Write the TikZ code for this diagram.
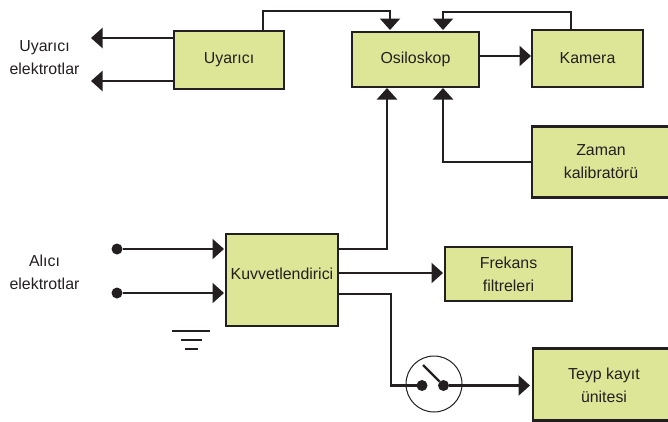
\documentclass[tikz,border=0pt]{standalone}
\usepackage{fontspec}
\setmainfont{Liberation Sans}
\usetikzlibrary{arrows.meta}
\definecolor{inkdark}{HTML}{231F20}
\definecolor{boxgreen}{HTML}{DDE696}
\tikzset{
	blockbox/.style={draw=inkdark, line width=2.4pt, fill=boxgreen, inner sep=0pt, outer sep=0pt, text=inkdark, align=center},
	caption/.style={text=inkdark, align=center, inner sep=0pt},
	conn/.style={draw=inkdark, line width=2.4pt},
	connarrow/.style={conn, -{Triangle[length=11.5pt,width=20pt]}},
	termdot/.style={circle, fill=inkdark, inner sep=0pt, minimum size=11pt, outer sep=0pt},
}
\begin{document}
\begin{tikzpicture}[x=1pt, y=-1pt, font=\fontsize{15.9}{23}\selectfont]
			%%%%% START %%%%%
			\useasboundingbox (0, 0) rectangle (668, 421);
			
			\node[blockbox, minimum width=110pt, minimum height=58pt] (uyarici) at (229, 60) {Uyarıcı};
			\node[blockbox, minimum width=127pt, minimum height=55pt] (osiloskop) at (415.5, 59.5) {Osiloskop};
			\node[blockbox, minimum width=111pt, minimum height=57pt] (kamera) at (587.5, 58.5) {Kamera};
			\node[blockbox, minimum width=138pt, minimum height=71pt] (zaman) at (601, 162) {Zaman\\kalibratörü};
			\node[blockbox, minimum width=112pt, minimum height=92pt] (kuvvet) at (282, 280) {};
			\node[caption] (kuvvetlabel) at (282, 274) {Kuvvetlendirici};
			\node[blockbox, minimum width=127pt, minimum height=54pt] (frekans) at (508.5, 274) {Frekans\\filtreleri};
			\node[blockbox, minimum width=137pt, minimum height=72pt] (teyp) at (601.5, 384.5) {};
			\node[caption] (teyplabel) at (604, 385) {Teyp kayıt\\ünitesi};
			
			\node[caption] (uyarilabel) at (44.5, 58) {Uyarıcı\\elektrotlar};
			\node[caption] (alicilabel) at (44.5, 272) {Alıcı\\elektrotlar};
			
			% stimulus outputs
			\coordinate (uyariout) at (91, 38);
			\coordinate (uyariouttwo) at (91, 81);
			\draw[connarrow] (uyarici.west |- uyariout) -- (uyariout);
			\draw[connarrow] (uyarici.west |- uyariouttwo) -- (uyariouttwo);
			
			% top lines
			\coordinate (uyaritop) at (263, 11);
			\coordinate (osiltopa) at (390, 30);
			\coordinate (kameratop) at (571, 12);
			\coordinate (osiltopb) at (443, 30);
			\coordinate (kamerain) at (531, 56);
			\draw[connarrow] (uyaritop |- uyarici.north) -- (uyaritop) -| (osiltopa);
			\draw[connarrow] (kameratop |- kamera.north) -- (kameratop) -| (osiltopb);
			\draw[connarrow] (osiloskop.east |- kamerain) -- (kamerain);
			
			% into the oscilloscope from below
			\coordinate (osilbota) at (387, 88);
			\coordinate (osilbotb) at (443, 88);
			\coordinate (kuvvetup) at (338, 249);
			\draw[connarrow] (kuvvetup) -| (osilbota);
			\draw[connarrow] (zaman.west) -| (osilbotb);
			
			% inputs
			\node[termdot] (girisa) at (117, 249) {};
			\node[termdot] (girisb) at (117, 293) {};
			\coordinate (kuvvetina) at (224, 249);
			\coordinate (kuvvetinb) at (224, 293);
			\draw[connarrow] (girisa) -- (kuvvetina);
			\draw[connarrow] (girisb) -- (kuvvetinb);
			
			% ground
			\draw[inkdark, line width=2pt] (172, 331) -- (210, 331);
			\draw[inkdark, line width=2pt] (181, 340) -- (201.5, 340);
			\draw[inkdark, line width=2pt] (185, 349) -- (198, 349);
			
			% filter branch
			\coordinate (frekansin) at (443, 273);
			\draw[connarrow] (kuvvet.east |- frekansin) -- (frekansin);
			
			% switch branch
			\node[termdot] (anahtara) at (422, 385.5) {};
			\node[termdot] (anahtarb) at (443.5, 385.5) {};
			\coordinate (kuvvetout) at (338, 294);
			\coordinate (kirilma) at (391, 385.5);
			\coordinate (bicak) at (423, 365);
			\coordinate (teypin) at (530, 385.5);
			\draw[conn] (kuvvetout) -| (kirilma) -- (anahtara);
			\draw[conn] (bicak) -- (anahtarb);
			\draw[connarrow] (anahtarb) -- (teypin);
			\node[circle, draw=inkdark, line width=1pt, minimum size=56pt, inner sep=0pt] (anahtar) at (434, 384) {};
			%%%%% END %%%%%
\end{tikzpicture}
\end{document}
